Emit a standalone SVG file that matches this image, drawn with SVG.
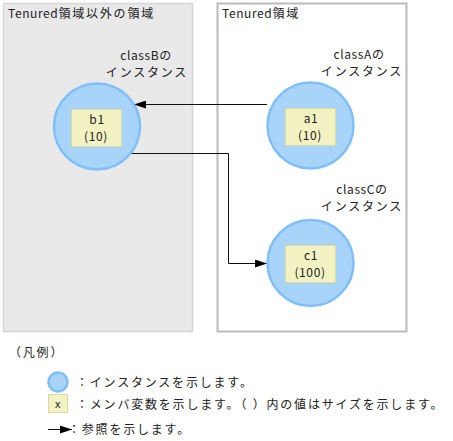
<svg xmlns="http://www.w3.org/2000/svg" width="453" height="441" viewBox="0 0 453 441">
<defs>
<style>
text{font-family:"Noto Sans CJK JP","DejaVu Sans",sans-serif;font-size:12px;fill:#222;letter-spacing:0.6px}
.j{letter-spacing:1.8px}
.c{text-anchor:middle}
.inst{fill:#a8d4fa;stroke:#80bff7;stroke-width:2.5}
.mem{fill:#f2f2c2;stroke:#d9d9a0;stroke-width:1}
.ln{fill:none;stroke:#111;stroke-width:1}
</style>
<marker id="ah" markerWidth="12" markerHeight="8" refX="12" refY="4" orient="auto" markerUnits="userSpaceOnUse">
<path d="M0,0 L12,4 L0,8 Z" fill="#000"/>
</marker>
</defs>
<rect width="453" height="441" fill="#fff"/>
<g id="area-other">
<rect x="3.5" y="3.5" width="189" height="328" fill="#e9e9e9" stroke="#d6d6d6" stroke-width="1.5"/>
<text x="8" y="18">Tenured<tspan class="j">領域以外の領域</tspan></text>
</g>
<g id="area-tenured">
<rect x="217.5" y="3.5" width="189" height="328" fill="#fff" stroke="#bbb" stroke-width="2"/>
<text x="222" y="18">Tenured<tspan class="j">領域</tspan></text>
</g>
<g id="connectors">
<line class="ln" x1="267" y1="104.5" x2="134" y2="104.5" marker-end="url(#ah)"/>
<polyline class="ln" points="130,153.5 228.5,153.5 228.5,263.5 267,263.5" marker-end="url(#ah)"/>
</g>
<g id="classB">
<text class="c" x="146" y="60">classBの</text>
<text class="c j" x="147" y="77">インスタンス</text>
<circle class="inst" cx="97" cy="126.5" r="43"/>
<rect class="mem" x="71.5" y="109.5" width="50" height="37"/>
<text class="c" x="97" y="124">b1</text>
<text class="c" x="96" y="141">(10)</text>
</g>
<g id="classA">
<text class="c" x="359" y="59">classAの</text>
<text class="c j" x="362" y="76">インスタンス</text>
<circle class="inst" cx="310.5" cy="125.5" r="43"/>
<rect class="mem" x="285.5" y="108.5" width="50" height="37"/>
<text class="c" x="311" y="123">a1</text>
<text class="c" x="310" y="140">(10)</text>
</g>
<g id="classC">
<text class="c" x="362" y="194">classCの</text>
<text class="c j" x="362" y="211">インスタンス</text>
<circle class="inst" cx="310.5" cy="263" r="43"/>
<rect class="mem" x="285.5" y="245.5" width="50" height="37"/>
<text class="c" x="311" y="260">c1</text>
<text class="c" x="310" y="277">(100)</text>
</g>
<g id="legend">
<text class="j" x="9" y="357">（凡例）</text>
<circle class="inst" cx="58" cy="382" r="9.5"/>
<text class="j" x="76" y="387">：インスタンスを示します。</text>
<rect class="mem" x="48.5" y="394.5" width="19" height="18"/>
<text class="c" x="58" y="408" style="font-size:11px">x</text>
<text class="j" x="76" y="409">：メンバ変数を示します。（ ）内の値はサイズを示します。</text>
<line class="ln" x1="48" y1="429.5" x2="72" y2="429.5" marker-end="url(#ah)"/>
<text class="j" x="68" y="434">：参照を示します。</text>
</g>
</svg>
